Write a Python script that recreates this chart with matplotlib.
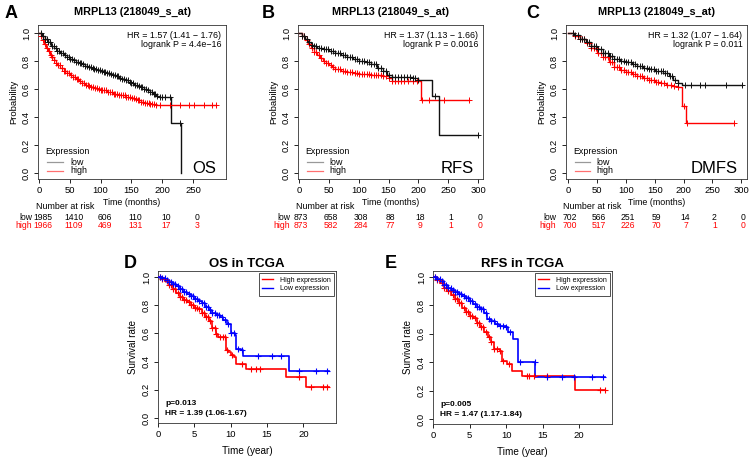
import numpy as np
import matplotlib
matplotlib.use("Agg")
import matplotlib.pyplot as plt
import matplotlib.transforms as mtransforms
from matplotlib.lines import Line2D

plt.rcParams['font.family'] = ['Liberation Sans', 'DejaVu Sans']

W, H = 753, 459

# ---------------- data: panel A (OS, months) ----------------
a_low_t = [0, 5, 10, 15, 20, 25, 30, 35, 40, 45, 50, 55, 60, 65, 70, 75, 80, 85, 90, 95, 100, 105, 110, 115, 120,
           125, 130, 135, 140, 145, 150, 155, 160, 165, 170, 175, 180, 185, 190, 195, 215, 230]
a_low_s = [1.0, 0.98, 0.955, 0.935, 0.91, 0.89, 0.87, 0.855, 0.84, 0.83, 0.815, 0.805, 0.795, 0.785, 0.775, 0.765,
           0.755, 0.748, 0.74, 0.735, 0.728, 0.72, 0.712, 0.705, 0.698, 0.69, 0.682, 0.672, 0.662, 0.652, 0.642,
           0.632, 0.622, 0.612, 0.60, 0.59, 0.58, 0.565, 0.55, 0.54, 0.36, 0.0]
a_low_c = [4, 7, 10, 13, 15, 18, 21, 24, 27, 30, 33, 36, 39, 42, 45, 48, 51, 54, 57, 60, 63, 66, 69, 72, 75, 78, 81,
           84, 87, 90, 93, 96, 99, 102, 105, 108, 111, 114, 117, 120, 123, 126, 129, 132, 135, 138, 141, 144, 147,
           150, 153, 156, 159, 162, 165, 168, 171, 174, 177, 180, 183, 186, 189, 192, 196, 200, 205, 212, 229]
a_high_t = [0, 3, 6, 9, 12, 15, 18, 21, 24, 27, 30, 35, 40, 45, 50, 55, 60, 65, 70, 75, 80, 85, 90, 95, 100, 110,
            120, 130, 140, 150, 155, 160, 165, 170, 180, 190, 288]
a_high_s = [1.0, 0.98, 0.95, 0.92, 0.895, 0.87, 0.845, 0.825, 0.805, 0.785, 0.77, 0.75, 0.73, 0.715, 0.70, 0.685,
            0.67, 0.655, 0.64, 0.63, 0.62, 0.612, 0.605, 0.598, 0.59, 0.578, 0.565, 0.555, 0.545, 0.535, 0.528,
            0.518, 0.505, 0.497, 0.49, 0.486, 0.486]
a_high_c = [4, 7, 10, 13, 16, 19, 22, 25, 28, 31, 34, 37, 40, 43, 46, 49, 52, 55, 58, 61, 64, 67, 70, 73, 76, 79,
            82, 85, 88, 91, 94, 97, 100, 103, 106, 109, 112, 115, 118, 121, 124, 127, 130, 133, 136, 139, 142, 145,
            148, 151, 154, 157, 160, 163, 166, 169, 172, 175, 178, 181, 184, 187, 190, 197, 213, 229, 243, 251,
            267, 281, 288]
a_risk_low = [1985, 1410, 606, 110, 10, 0]
a_risk_high = [1966, 1109, 469, 131, 17, 3]
a_xticks = [0, 50, 100, 150, 200, 250]

# ---------------- panel B (RFS, months) ----------------
b_low_t = [0, 5, 10, 15, 20, 25, 30, 40, 50, 60, 70, 80, 90, 100, 110, 120, 130, 140, 147, 155, 190, 200, 222, 235,
           300]
b_low_s = [1.0, 0.98, 0.955, 0.935, 0.915, 0.905, 0.895, 0.883, 0.872, 0.86, 0.845, 0.83, 0.815, 0.80, 0.79,
           0.775, 0.75, 0.725, 0.70, 0.688, 0.675, 0.664, 0.55, 0.272, 0.272]
b_low_c = [5, 9, 13, 17, 21, 25, 29, 33, 37, 41, 45, 49, 53, 57, 61, 65, 69, 73, 77, 81, 85, 89, 93, 97, 101, 105,
           109, 113, 117, 121, 125, 129, 133, 137, 141, 145, 150, 155, 160, 165, 170, 175, 180, 185, 190, 195, 200,
           228, 300]
b_high_t = [0, 5, 10, 15, 20, 25, 30, 35, 40, 45, 50, 55, 60, 70, 80, 90, 100, 120, 140, 150, 155, 204, 285]
b_high_s = [1.0, 0.975, 0.95, 0.92, 0.89, 0.865, 0.84, 0.82, 0.80, 0.785, 0.77, 0.755, 0.745, 0.73, 0.72, 0.715,
            0.708, 0.70, 0.69, 0.675, 0.658, 0.52, 0.52]
b_high_c = [5, 9, 13, 17, 21, 25, 29, 33, 37, 41, 45, 49, 53, 57, 61, 65, 69, 73, 77, 81, 85, 89, 93, 97, 101, 105,
            109, 113, 117, 121, 125, 129, 133, 137, 141, 145, 150, 156, 160, 165, 170, 176, 182, 190, 197, 206, 217,
            242, 284]
b_risk_low = [873, 658, 308, 88, 18, 1, 0]
b_risk_high = [873, 582, 284, 77, 9, 1, 0]
b_xticks = [0, 50, 100, 150, 200, 250, 300]

# ---------------- panel C (DMFS, months) ----------------
c_low_t = [0, 10, 20, 30, 40, 50, 60, 70, 80, 90, 100, 110, 120, 130, 140, 150, 165, 175, 182, 190, 197, 302]
c_low_s = [1.0, 0.985, 0.96, 0.935, 0.91, 0.885, 0.86, 0.835, 0.815, 0.80, 0.79, 0.78, 0.765, 0.75, 0.74, 0.725,
           0.715, 0.695, 0.665, 0.645, 0.625, 0.625]
c_low_c = [8, 12, 16, 20, 24, 28, 32, 36, 40, 44, 48, 52, 56, 60, 64, 68, 72, 76, 80, 84, 88, 92, 96, 100, 104, 108,
           112, 116, 120, 124, 128, 132, 136, 140, 144, 148, 152, 156, 160, 164, 168, 172, 176, 180, 185, 190, 203,
           212, 229, 238, 273, 302]
c_high_t = [0, 10, 20, 30, 40, 50, 60, 70, 80, 90, 100, 110, 120, 130, 140, 150, 160, 170, 180, 190, 197, 205, 287]
c_high_s = [1.0, 0.98, 0.955, 0.925, 0.895, 0.86, 0.825, 0.79, 0.76, 0.735, 0.72, 0.705, 0.69, 0.68, 0.665, 0.652,
            0.645, 0.63, 0.62, 0.615, 0.478, 0.36, 0.36]
c_high_c = [8, 12, 16, 20, 24, 28, 32, 36, 40, 44, 48, 52, 56, 60, 64, 68, 72, 76, 80, 84, 88, 92, 96, 100, 104,
            108, 112, 116, 120, 124, 128, 132, 136, 140, 144, 148, 152, 156, 160, 166, 172, 178, 184, 190, 201,
            206, 287]
c_risk_low = [702, 566, 251, 59, 14, 2, 0]
c_risk_high = [700, 517, 226, 70, 7, 1, 0]
c_xticks = [0, 50, 100, 150, 200, 250, 300]

# ---------------- panel D (OS in TCGA, years) ----------------
d_low_t = [0, 0.5, 1, 1.5, 2, 2.5, 3, 3.5, 4, 4.5, 5, 5.5, 6, 6.5, 7, 7.5, 8, 8.5, 9, 9.5, 10, 10.6, 10.8, 11.4,
           11.7, 18.0, 23.5]
d_low_s = [1.0, 0.99, 0.98, 0.965, 0.95, 0.935, 0.915, 0.895, 0.88, 0.865, 0.845, 0.83, 0.815, 0.79, 0.765, 0.745,
           0.73, 0.72, 0.695, 0.67, 0.60, 0.59, 0.49, 0.48, 0.44, 0.336, 0.336]
d_low_c = [0.3, 0.6, 0.9, 1.2, 1.5, 1.8, 2.1, 2.4, 2.7, 3.0, 3.3, 3.6, 3.9, 4.2, 4.5, 4.8, 5.1, 5.4, 5.7, 6.0, 6.3,
           6.6, 6.9, 7.2, 7.5, 7.8, 8.1, 8.4, 8.8, 9.2, 9.6, 10.0, 10.4, 11.0, 11.6, 13.7, 15.7, 16.9, 19.4, 21.8,
           23.3]
d_high_t = [0, 0.5, 1, 1.5, 2, 2.5, 3, 3.5, 4, 4.5, 5, 5.5, 6, 6.5, 7, 7.5, 8, 8.3, 9.3, 9.6, 10.1, 10.4, 10.8,
            12.1, 17.6, 20.4, 23.6]
d_high_s = [1.0, 0.985, 0.97, 0.945, 0.915, 0.89, 0.86, 0.84, 0.82, 0.80, 0.78, 0.77, 0.745, 0.72, 0.69, 0.64,
            0.595, 0.575, 0.48, 0.47, 0.447, 0.435, 0.38, 0.35, 0.29, 0.22, 0.22]
d_high_c = [0.3, 0.6, 0.9, 1.2, 1.5, 1.8, 2.1, 2.4, 2.7, 3.0, 3.3, 3.6, 3.9, 4.2, 4.5, 4.8, 5.1, 5.4, 5.7, 6.0, 6.3,
            6.6, 6.9, 7.2, 7.5, 7.8, 8.0, 8.5, 8.9, 9.2, 9.5, 10.2, 11.6, 12.8, 13.5, 14.1, 19.4, 21.1, 22.7, 23.3]

# ---------------- panel E (RFS in TCGA, years) ----------------
e_low_t = [0, 0.5, 1, 1.5, 2, 2.5, 3, 3.5, 4, 4.5, 5, 5.5, 6, 6.5, 7, 7.4, 8, 8.5, 9, 10, 10.3, 10.9, 11.6, 14.0,
           23.5]
e_low_s = [1.0, 0.985, 0.97, 0.945, 0.925, 0.91, 0.895, 0.88, 0.87, 0.855, 0.83, 0.81, 0.79, 0.775, 0.745, 0.706,
           0.69, 0.67, 0.655, 0.65, 0.61, 0.565, 0.40, 0.295, 0.295]
e_low_c = [0.3, 0.6, 0.9, 1.2, 1.5, 1.8, 2.1, 2.4, 2.7, 3.0, 3.3, 3.6, 3.9, 4.2, 4.5, 4.8, 5.1, 5.4, 5.7, 6.0, 6.3,
           6.6, 6.9, 7.2, 7.6, 8.0, 8.4, 8.8, 9.2, 9.6, 10.0, 10.5, 11.9, 13.9, 15.6, 17.6, 19.3, 21.7, 23.3]
e_high_t = [0, 0.5, 1, 1.5, 2, 2.5, 3, 3.5, 4, 4.5, 5, 5.5, 6, 6.5, 7, 7.5, 8, 8.3, 9.2, 9.4, 10.1, 10.8, 12.2,
            19.5, 23.5]
e_high_s = [1.0, 0.98, 0.955, 0.925, 0.90, 0.875, 0.845, 0.82, 0.785, 0.755, 0.725, 0.71, 0.68, 0.645, 0.61, 0.575,
            0.54, 0.49, 0.48, 0.41, 0.39, 0.34, 0.305, 0.205, 0.205]
e_high_c = [0.3, 0.6, 0.9, 1.2, 1.5, 1.8, 2.1, 2.4, 2.7, 3.0, 3.3, 3.6, 3.9, 4.2, 4.5, 4.8, 5.1, 5.4, 5.7, 6.0, 6.3,
            6.6, 6.9, 7.2, 7.6, 8.0, 8.4, 8.8, 9.2, 9.6, 10.4, 12.8, 13.2, 13.8, 15.6, 22.9, 23.5]
tcga_xticks = [0, 5, 10, 15, 20]
yticks = [0.0, 0.2, 0.4, 0.6, 0.8, 1.0]

fig = plt.figure(figsize=(W / 100, H / 100), dpi=100)


def box(left, top, right, bottom):
    return [left / W, 1 - bottom / H, (right - left) / W, (bottom - top) / H]


def ftext(x, y, s, **kw):
    fig.text(x / W, 1 - y / H, s, **kw)


def km(ax, t, s, cens, color, lw, ms, mew):
    t = np.asarray(t, float)
    s = np.asarray(s, float)
    ax.plot(t, s, drawstyle='steps-post', color=color, lw=lw, zorder=3)
    c = np.asarray(cens, float)
    idx = np.searchsorted(t, c, side='right') - 1
    ax.plot(c, s[idx], ls='none', marker='+', ms=ms, mew=mew, color=color, zorder=4)


def style_axes(ax, xticks, fs):
    ax.set_xticks(xticks)
    ax.set_xticklabels([str(v) for v in xticks], fontsize=fs)
    ax.set_yticks(yticks)
    ax.set_yticklabels([f"{v:.1f}" for v in yticks], fontsize=fs, rotation=90, va='center')
    ax.tick_params(direction='out', length=3, width=0.6, pad=2, top=False, right=False)
    for sp in ax.spines.values():
        sp.set_linewidth(0.6)
        sp.set_color('#333333')


LOW_C = '#111111'
HIGH_C = '#ff0000'
FS = 6.4
RFS_ = 6.2

kmp_panels = [
    dict(box=box(38, 25, 226, 179), xlim=(-1.5, 303.5), xticks=a_xticks, low=(a_low_t, a_low_s, a_low_c),
         high=(a_high_t, a_high_s, a_high_c), risk_low=a_risk_low, risk_high=a_risk_high,
         hr="HR = 1.57 (1.41 \u2212 1.76)", p="logrank P = 4.4e\u221216", tag="OS", letter="A", lx=5,
         lab_off=7, num_off=4),
    dict(box=box(298, 25, 483, 179), xlim=(-1.7, 308), xticks=b_xticks, low=(b_low_t, b_low_s, b_low_c),
         high=(b_high_t, b_high_s, b_high_c), risk_low=b_risk_low, risk_high=b_risk_high,
         hr="HR = 1.37 (1.13 \u2212 1.66)", p="logrank P = 0.0016", tag="RFS", letter="B", lx=262,
         lab_off=9, num_off=2),
    dict(box=box(566, 25, 747, 179), xlim=(-4, 310), xticks=c_xticks, low=(c_low_t, c_low_s, c_low_c),
         high=(c_high_t, c_high_s, c_high_c), risk_low=c_risk_low, risk_high=c_risk_high,
         hr="HR = 1.32 (1.07 \u2212 1.64)", p="logrank P = 0.011", tag="DMFS", letter="C", lx=526,
         lab_off=12, num_off=2),
]

for P in kmp_panels:
    ax = fig.add_axes(P['box'])
    km(ax, *P['high'], HIGH_C, 1.0, 4.2, 0.7)
    km(ax, *P['low'], LOW_C, 1.0, 4.2, 0.7)
    ax.set_xlim(*P['xlim'])
    ax.set_ylim(-0.043, 1.057)
    style_axes(ax, P['xticks'], 6.8)
    ax.set_ylabel("Probability", fontsize=6.8, labelpad=3)
    ax.text(0.975, 0.96, P['hr'], transform=ax.transAxes, ha='right', va='top', fontsize=FS)
    ax.text(0.975, 0.90, P['p'], transform=ax.transAxes, ha='right', va='top', fontsize=FS)
    ax.text(0.95, 0.065, P['tag'], transform=ax.transAxes, ha='right', va='center', fontsize=12)
    ax.text(0.04, 0.18, "Expression", transform=ax.transAxes, ha='left', va='center', fontsize=FS)
    ax.plot([0.05, 0.135], [0.11, 0.11], transform=ax.transAxes, color='#999999', lw=0.9)
    ax.plot([0.05, 0.135], [0.052, 0.052], transform=ax.transAxes, color='#ff7070', lw=0.9)
    ax.text(0.17, 0.11, "low", transform=ax.transAxes, ha='left', va='center', fontsize=FS)
    ax.text(0.17, 0.052, "high", transform=ax.transAxes, ha='left', va='center', fontsize=FS)
    ax.set_title("MRPL13 (218049_s_at)", fontsize=7.8, fontweight='bold', pad=7)
    trans = mtransforms.blended_transform_factory(ax.transData, ax.transAxes)
    ax.text(0.5, -0.15, "Time (months)", transform=ax.transAxes, ha='center', va='center', fontsize=FS)
    ax.text(0.145, -0.178, "Number at risk", transform=ax.transAxes, ha='center', va='center', fontsize=FS)
    off = mtransforms.offset_copy(trans, fig=fig, x=P['num_off'], y=0, units='dots')
    for xv, n in zip(P['xticks'], P['risk_low']):
        ax.text(xv, -0.247, str(n), transform=off, ha='center', va='center', fontsize=RFS_, color='black')
    for xv, n in zip(P['xticks'], P['risk_high']):
        ax.text(xv, -0.305, str(n), transform=off, ha='center', va='center', fontsize=RFS_, color=HIGH_C)
    loff = mtransforms.offset_copy(trans, fig=fig, x=-P['lab_off'], y=0, units='dots')
    ax.text(0, -0.247, "low", transform=loff, ha='right', va='center', fontsize=RFS_, color='black')
    ax.text(0, -0.305, "high", transform=loff, ha='right', va='center', fontsize=RFS_, color=HIGH_C)
    ftext(P['lx'], 13, P['letter'], fontsize=13, fontweight='bold', ha='left', va='center')

tcga_panels = [
    dict(box=box(158, 271, 336, 423), low=(d_low_t, d_low_s, d_low_c), high=(d_high_t, d_high_s, d_high_c),
         title="OS in TCGA", p="p=0.013", hr="HR = 1.39 (1.06-1.67)", letter="D", lx=124),
    dict(box=box(433, 271, 612, 424), low=(e_low_t, e_low_s, e_low_c), high=(e_high_t, e_high_s, e_high_c),
         title="RFS in TCGA", p="p=0.005", hr="HR = 1.47 (1.17-1.84)", letter="E", lx=385),
]

for P in tcga_panels:
    ax = fig.add_axes(P['box'])
    km(ax, *P['high'], 'red', 1.2, 5, 0.8)
    km(ax, *P['low'], 'blue', 1.2, 5, 0.8)
    ax.set_xlim(0, 24.5)
    ax.set_ylim(-0.035, 1.043)
    style_axes(ax, tcga_xticks, 6.8)
    ax.set_ylabel("Survival rate", fontsize=7, labelpad=3)
    ax.set_xlabel("Time (year)", fontsize=7.2, labelpad=5)
    ax.set_title(P['title'], fontsize=9.5, fontweight='bold', pad=3)
    ax.text(0.04, 0.128, P['p'], transform=ax.transAxes, ha='left', va='center', fontsize=6, fontweight='bold')
    ax.text(0.04, 0.063, P['hr'], transform=ax.transAxes, ha='left', va='center', fontsize=6, fontweight='bold')
    handles = [Line2D([], [], color='red', lw=1.0), Line2D([], [], color='blue', lw=1.0)]
    leg = ax.legend(handles, ["High expression", "Low expression"], loc='upper right', fontsize=5,
                    frameon=True, fancybox=False, edgecolor='#333333', framealpha=1, borderaxespad=0.3,
                    handlelength=1.6, borderpad=0.5, labelspacing=0.25, handletextpad=0.9)
    leg.get_frame().set_linewidth(0.6)
    ftext(P['lx'], 264, P['letter'], fontsize=13, fontweight='bold', ha='left', va='center')

fig.savefig("out.png", dpi=100)
